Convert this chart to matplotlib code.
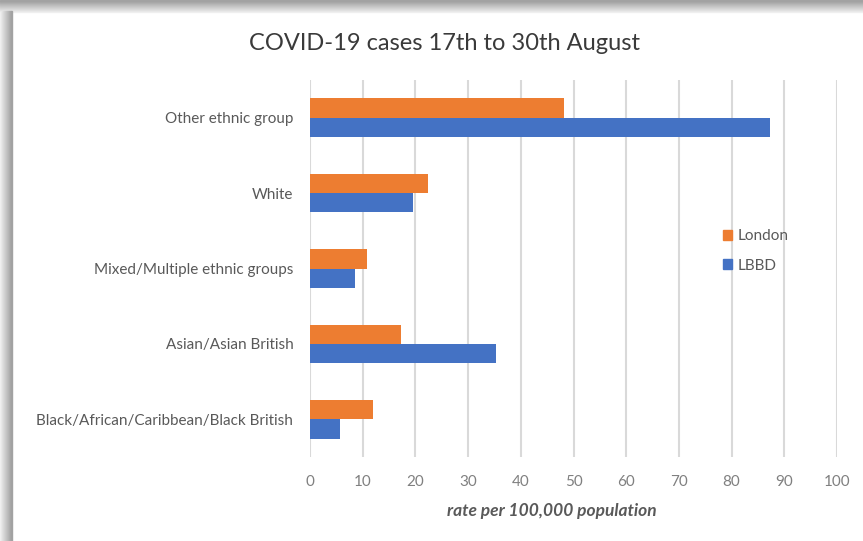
import matplotlib.pyplot as plt
import matplotlib.patches as mpatches
import numpy as np

categories = ["Black/African/Caribbean/Black British", "Asian/Asian British",
              "Mixed/Multiple ethnic groups", "White", "Other ethnic group"]
london = [11.9, 17.3, 10.9, 22.4, 48.2]
lbbd = [5.6, 35.3, 8.5, 19.6, 87.3]
xticks = [0, 10, 20, 30, 40, 50, 60, 70, 80, 90, 100]

orange = "#ED7D31"
blue = "#4472C4"
grey_text = "#595959"

plt.rcParams['font.family'] = ['Lato', 'DejaVu Sans']

fig = plt.figure(figsize=(8.63, 5.41), dpi=100)

# card shadow on top and left edge
for i in range(12):
    a = 0.08 + 0.04 * i
    fig.patches.append(mpatches.Rectangle((0, 1 - (12 - i) / 541), 1, 1 / 541, transform=fig.transFigure,
                                          color=str(1 - a * 0.7), zorder=0))
    fig.patches.append(mpatches.Rectangle((i / 863, 0), 1 / 863, 1 - 12 / 541 + 1 / 541, transform=fig.transFigure,
                                          color=str(1 - a * 0.7), zorder=0))

ax = fig.add_axes([310 / 863, 1 - 457 / 541, 527 / 863, 377 / 541])
y = np.arange(len(categories))
h = 0.255
ax.barh(y + h / 2, london, height=h, color=orange, label="London", zorder=3)
ax.barh(y - h / 2, lbbd, height=h, color=blue, label="LBBD", zorder=3)

ax.set_xlim(0, 100)
ax.set_ylim(-0.5, len(categories) - 0.5)
ax.set_xticks(xticks)
ax.set_yticks(y)
ax.set_yticklabels(categories)
ax.grid(axis="x", color="#d9d9d9", linewidth=1.5, zorder=0)
for s in ax.spines.values():
    s.set_visible(False)
ax.tick_params(axis="both", length=0, labelsize=11, labelcolor=grey_text)
ax.tick_params(axis="x", pad=13, labelcolor="#808080")
ax.tick_params(axis="y", pad=12)

ax.set_xlabel("rate per 100,000 population", fontsize=12.5, style="italic", fontweight="bold",
              color=grey_text)
ax.xaxis.set_label_coords((552 - 310) / 527, -(503 - 457) / 377)
fig.text(444 / 863, 1 - 43 / 541, "COVID-19 cases 17th to 30th August", ha="center", va="center",
         fontsize=17, color="#3a3a3a")

handles = [mpatches.Patch(color=orange), mpatches.Patch(color=blue)]
fig.legend(handles, ["London", "LBBD"], loc="center left", bbox_to_anchor=(709 / 863, 1 - 251 / 541),
           frameon=False, fontsize=11, labelcolor=grey_text, handlelength=0.6, handleheight=0.6,
           handletextpad=0.4, labelspacing=1.0)

fig.savefig("out.png", dpi=100)
